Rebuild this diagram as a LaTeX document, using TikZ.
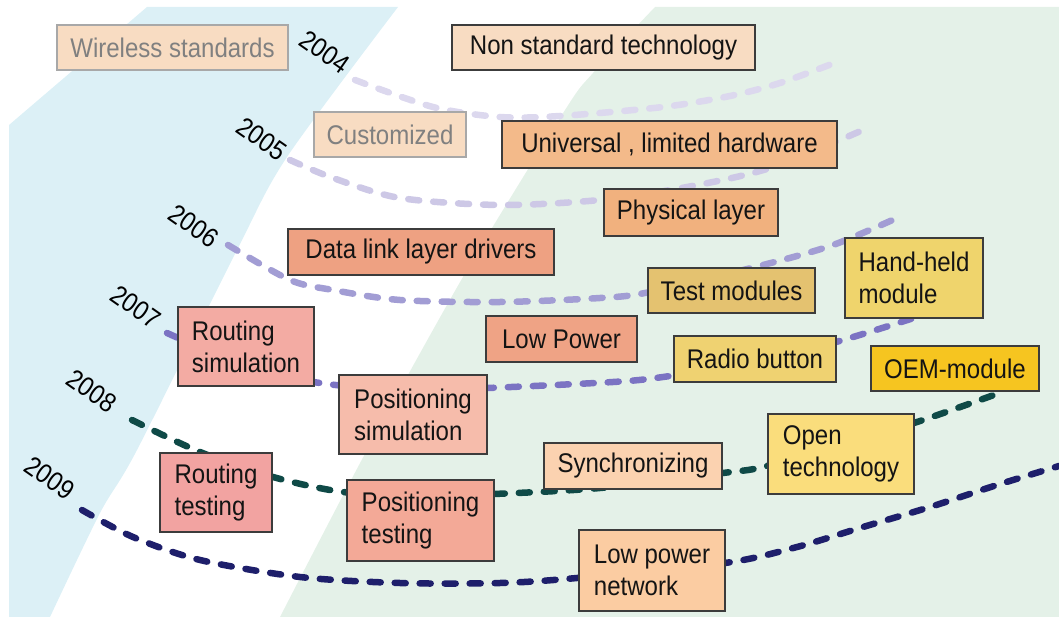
\documentclass[tikz,border=0pt]{standalone}
\usepackage{fontspec}
\setmainfont{Liberation Sans}[FakeStretch=0.89]
\definecolor{bluebg}{HTML}{DCF0F6}
\definecolor{greenbg}{HTML}{E4F1E8}
\definecolor{frame}{HTML}{3C3C3C}
\definecolor{fadeline}{HTML}{A8A8A8}
\definecolor{fadetext}{HTML}{808080}
\definecolor{yrA}{HTML}{DCD8EE}
\definecolor{yrB}{HTML}{CDC8E6}
\definecolor{yrC}{HTML}{A29DD4}
\definecolor{yrD}{HTML}{7B73C3}
\definecolor{yrE}{HTML}{0F4A47}
\definecolor{yrF}{HTML}{1E1F6B}
\definecolor{peach}{HTML}{F8DCC2}
\definecolor{univ}{HTML}{F3BA8A}
\definecolor{phys}{HTML}{F1B17E}
\definecolor{dlink}{HTML}{EEA182}
\definecolor{tmod}{HTML}{E4C270}
\definecolor{hand}{HTML}{EFD46C}
\definecolor{rsim}{HTML}{F3ABA3}
\definecolor{lowp}{HTML}{EFA385}
\definecolor{psim}{HTML}{F6BCAB}
\definecolor{radio}{HTML}{EFD271}
\definecolor{oem}{HTML}{F6C520}
\definecolor{rtest}{HTML}{F2A3A1}
\definecolor{ptest}{HTML}{F3A997}
\definecolor{sync}{HTML}{FBD2B0}
\definecolor{open}{HTML}{FADD7C}
\definecolor{lpn}{HTML}{FBCCA2}

\begin{document}
\begin{tikzpicture}[x=1pt,y=-1pt,
    box/.style={draw=frame,line width=1.4pt,inner sep=0pt,align=left,
      text=black!92,font=\fontsize{27}{32}\selectfont},
    faded/.style={box,draw=fadeline,text=fadetext,fill=peach},
    year/.style={rotate=-35,inner sep=0pt,font=\fontsize{27}{30}\selectfont},
    track/.style={line width=6.5pt,line cap=round,dash pattern=on 11pt off 14pt}]
  \useasboundingbox (0,0) rectangle (1059,617);
  % background bands
  \fill[greenbg] plot[smooth] coordinates {(655,7) (593,73) (565,110) (467,270) (367,450) (280,617)}
    -- (1059,617) -- (1059,7) -- cycle;
  \fill[bluebg] (147,7) -- plot[smooth] coordinates {(398,7) (287,157) (237,250) (137,450) (100,513) (50,617)}
    -- (9,617) -- (9,125) -- cycle;

  % one track per year
  \draw[track,yrA] plot[smooth] coordinates {(355,80) (433,107) (500,117) (560,116) (663,107) (730,96) (780,83) (837,62)};
  \draw[track,yrB] plot[smooth] coordinates {(290,160) (333,178) (400,198) (500,205) (600,200) (687,187) (770,168) (863,130)};
  \draw[track,yrC] plot[smooth] coordinates {(228,245) (290,280) (333,290) (400,300) (500,302) (600,298) (650,292) (763,265) (833,245) (897,218)};
  \draw[track,yrD] plot[smooth] coordinates {(167,333) (250,368) (320,383) (400,390) (487,388) (613,382) (663,377) (760,362) (843,340) (920,316)};
  \draw[track,yrE] plot[smooth] coordinates {(132,420) (200,452) (273,477) (343,492) (420,496) (494,494) (600,488) (723,473) (763,467) (840,445) (917,422) (1005,391)};
  \draw[track,yrF] plot[smooth] coordinates {(82,510) (133,537) (200,560) (300,577) (400,583) (500,583) (577,578) (725,563) (797,547) (863,527) (930,507) (997,485) (1059,466)};

  \foreach \yr/\x/\y in {2004/325/52,2005/262/139,2006/194/226,2007/136/307,2008/92/391,2009/50/478}
    \node[year] (y\yr) at (\x,\y) {\yr};

  \node[faded,minimum width=231pt,minimum height=45pt] (wireless) at (172.5,47.5) {Wireless standards};
  \node[faded,minimum width=152pt,minimum height=45pt] (custom) at (390,134.5) {Customized};

  \foreach \n/\x/\y/\w/\h/\col/\txt in {
      nonstd/603.5/47.5/303/45/peach/{Non standard technology},
      universal/669.5/144.5/335/47/univ/{Universal , limited hardware},
      physical/691/212.5/174/47/phys/{Physical layer},
      datalink/421/252/266/46/dlink/{Data link layer drivers},
      testmod/731.5/290.5/167/45/tmod/{Test modules},
      handheld/914/278/138/80/hand/{Hand-held\\module},
      routesim/246/346.5/136/79/rsim/{Routing\\simulation},
      lowpower/561.5/339/151/46/lowp/{Low Power},
      possim/413/414.5/148/79/psim/{Positioning\\simulation},
      radio/755/359/162/46/radio/{Radio button},
      oem/955/368.5/168/45/oem/{OEM-module},
      routetest/216/492.5/112/79/rtest/{Routing\\testing},
      postest/420.5/520.5/147/81/ptest/{Positioning\\testing},
      sync/633/466/178/46/sync/{Synchronizing},
      opentech/841/454/146/80/open/{Open\\technology},
      lpnet/652/570.5/146/81/lpn/{Low power\\network}}
    \node[box,fill=\col,minimum width=\w pt,minimum height=\h pt] (\n) at (\x,\y) {\txt};
\end{tikzpicture}
\end{document}
